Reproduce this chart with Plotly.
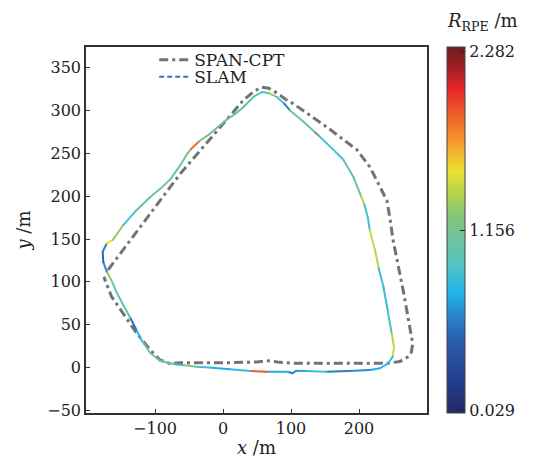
import plotly.graph_objects as go
from plotly.colors import sample_colorscale

# ---------------- data ----------------
span_x = [-169, -155, -137, -100, -63, -30, 0, 30, 45, 57, 67, 80, 94, 103, 152, 197, 216, 233,
          241, 246, 250, 265, 275, 279, 277, 272.5, 260, 241, 201, 150, 103, 80, 64, 50, 0, -63,
          -78, -93, -107, -127, -147, -164, -173.5, -175]
span_y = [114, 129, 147, 187, 226, 257, 285, 312, 322, 327, 326, 320, 312, 308, 281, 254, 234, 207,
          195, 172, 149, 90, 48, 28, 18, 12.7, 7, 5, 5, 5, 5, 6.5, 8, 6.5, 5.5, 5.7,
          4.5, 9, 20.5, 40, 63, 83, 102, 106]

slam_x = [-176, -177, -171, -162, -147, -128, -107, -92, -78, -63, -52, -47, -35, -19, 5, 18, 30, 45,
          58, 68, 79, 90, 98.5, 118, 136, 140, 160, 177, 192, 203, 208, 213, 216, 223.5, 229, 236,
          243, 248, 251.5, 249.5, 243, 231, 216, 185, 152, 120, 108, 102, 96, 64, 40, 10, -20, -39,
          -60, -73, -93, -107, -120, -128, -137, -146, -156, -163, -171]
slam_y = [123, 135, 145, 149, 166, 183, 199, 209, 219, 236, 250, 255, 264, 273, 289, 296, 304, 316,
          321.6, 320, 315.7, 308, 300, 287, 274, 271, 256, 242.5, 222, 200, 190, 175, 160, 137, 116, 94,
          63, 40, 24, 12.7, 5, -0.8, -2.8, -4, -4.8, -4, -3.6, -6.6, -5, -4.8, -4, -2, 0, 1,
          3, 4.2, 8, 17, 32, 45, 59, 72, 87, 100, 112]
slam_rpe = [0.5, 0.6, 1.55, 1.3, 0.9, 1.0, 1.1, 1.15, 1.05, 1.15, 1.2, 1.85, 1.15, 1.15, 1.1, 1.0, 1.05, 0.95,
            0.9, 1.3, 0.9, 0.6, 1.1, 1.0, 1.85, 0.9, 0.9, 1.0, 1.1, 1.4, 0.9, 0.88, 1.45, 1.4, 0.88, 0.85,
            0.9, 1.4, 1.45, 0.85, 0.8, 0.75, 0.65, 0.6, 0.85, 0.7, 0.65, 0.55, 0.75, 1.9, 0.85, 0.75, 0.9, 1.2,
            0.85, 1.1, 1.15, 1.15, 0.8, 0.55, 1.05, 0.95, 1.1, 1.3, 0.65]

rpe_min, rpe_max = 0.029, 2.282
cbar_range = [0.010, 2.312]
cbar_ticks = [0.029, 1.156, 2.282]
x_ticks = [-100, 0, 100, 200]
y_ticks = [-50, 0, 50, 100, 150, 200, 250, 300, 350]

colorscale = [
    [0.00, "#222a66"], [0.10, "#24408e"], [0.19, "#2a5aa8"], [0.26, "#2a80c8"],
    [0.33, "#1fb6ea"], [0.41, "#58c3c2"], [0.48, "#6fc39a"], [0.54, "#86c678"],
    [0.60, "#b6d24a"], [0.66, "#ebe234"], [0.74, "#f59a2c"], [0.82, "#ee5a2a"],
    [0.885, "#e8262a"], [0.95, "#9a1e24"], [1.00, "#6a1e20"],
]

FONT = "DejaVu Serif"
OFF = 8  # default page body margin
# page-space plot box: left 86, top 47, right 427, bottom 413 (window 533x458)
W, H = 533 - OFF, 458 - OFF
L, T = 86 - OFF, 47 - OFF
R, B = 533 - 427, 458 - 413
PW, PH = W - L - R, H - T - B
PLOT_BOTTOM_PAGE = 413


def page_to_paper_y(py):
    return (PLOT_BOTTOM_PAGE - py) / PH


fig = go.Figure()

# SPAN-CPT reference trajectory
fig.add_trace(go.Scatter(
    x=span_x, y=span_y, mode="lines", name="SPAN-CPT",
    line=dict(color="#737373", width=3, dash="9px,4px,3px,4px"),
    legend="legend",
))

# SLAM trajectory, colored by RPE per segment
n = len(slam_x)
fracs = [(v - cbar_range[0]) / (cbar_range[1] - cbar_range[0]) for v in slam_rpe]
cols = sample_colorscale(colorscale, fracs)
for i in range(n):
    j = (i + 1) % n
    fig.add_trace(go.Scatter(
        x=[slam_x[i], slam_x[j]], y=[slam_y[i], slam_y[j]], mode="lines",
        line=dict(color=cols[i], width=2), showlegend=False, hoverinfo="skip",
    ))

# markers carrying the colorbar
fig.add_trace(go.Scatter(
    x=slam_x, y=slam_y, mode="markers", showlegend=False,
    marker=dict(size=2, color=slam_rpe, colorscale=colorscale,
                cmin=cbar_range[0], cmax=cbar_range[1],
                showscale=True,
                colorbar=dict(
                    x=(447 - 86) / PW, xanchor="left", xref="paper", xpad=0,
                    y=0.5, yanchor="middle", len=1, lenmode="fraction", ypad=0,
                    thickness=18, outlinewidth=1, outlinecolor="#444",
                    tickvals=cbar_ticks, ticktext=[f"{v:.3f}" for v in cbar_ticks],
                    ticks="inside", ticklen=5, tickcolor="#222",
                    tickfont=dict(family=FONT, size=16, color="#222"),
                )),
))

# SLAM legend entry
fig.add_trace(go.Scatter(
    x=[None], y=[None], mode="lines", name="SLAM",
    line=dict(color="#3f6fc4", width=2, dash="5px,3px"), legend="legend2",
))

axis_common = dict(
    showgrid=False, zeroline=False, showline=True, linecolor="#333", linewidth=1.5,
    mirror=True, ticks="inside", ticklen=4, tickcolor="#333", tickwidth=1.2,
    tickfont=dict(family=FONT, size=16, color="#222"),
)

legend_common = dict(
    xanchor="left", yanchor="top", bgcolor="rgba(0,0,0,0)", borderwidth=0,
    font=dict(family=FONT, size=17, color="#222"),
)

fig.update_layout(
    width=W, height=H,
    margin=dict(l=L, r=R, t=T, b=B, autoexpand=False),
    paper_bgcolor="white", plot_bgcolor="white",
    xaxis=dict(range=[-201.5, 300], tickvals=x_ticks,
               title=dict(text="<i>x</i> /m", font=dict(family=FONT, size=18, color="#222"), standoff=0),
               **axis_common),
    yaxis=dict(range=[-53, 374], tickvals=y_ticks,
               title=dict(text="<i>y</i> /m", font=dict(family=FONT, size=18, color="#222"), standoff=12),
               **axis_common),
    legend=dict(x=0.2, y=1.013, **legend_common),
    legend2=dict(x=0.2, y=0.967, **legend_common),
    annotations=[dict(
        text="<i>R</i><sub>RPE</sub> /m", xref="paper", yref="paper",
        x=(482 - 86) / PW, y=page_to_paper_y(22), xanchor="center", yanchor="middle",
        showarrow=False, font=dict(family=FONT, size=18, color="#222"),
    )],
)

fig.write_html("out.html")
